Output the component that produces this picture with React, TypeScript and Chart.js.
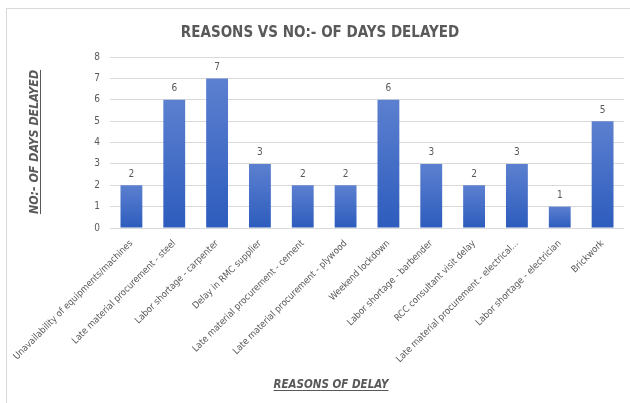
import React, { useEffect, useRef } from "react";
import { Chart, registerables } from "chart.js";

Chart.register(...registerables);

const categories: string[] = [
  "Unavailability of equipments/machines",
  "Late material procurement - steel",
  "Labor shortage - carpenter",
  "Delay in RMC supplier",
  "Late material procurement - cement",
  "Late material procurement - plywood",
  "Weekend lockdown",
  "Labor shortage - barbender",
  "RCC consultant visit delay",
  "Late material procurement - electrical...",
  "Labor shortage - electrician",
  "Brickwork",
];

const daysDelayed: number[] = [2, 6, 7, 3, 2, 2, 6, 3, 2, 3, 1, 5];

const yTicks: number[] = [0, 1, 2, 3, 4, 5, 6, 7, 8];

const chartTitle = "REASONS VS NO:- OF DAYS DELAYED";
const xTitle = "REASONS OF DELAY";
const yTitle = "NO:- OF DAYS DELAYED";

const FONT = "'Liberation Sans Narrow', 'DejaVu Sans Condensed', 'Liberation Sans', sans-serif";
const GRAY = "#595959";

const axisTitles = {
  id: "axisTitles",
  afterDraw(chart: any) {
    const ctx = chart.ctx as CanvasRenderingContext2D;
    ctx.save();
    ctx.fillStyle = GRAY;
    ctx.strokeStyle = GRAY;
    ctx.lineWidth = 1;
    ctx.textAlign = "center";
    ctx.textBaseline = "alphabetic";
    // x title
    ctx.font = `italic bold 11.5px ${FONT}`;
    const xc = 331;
    const xb = 388;
    ctx.fillText(xTitle, xc, xb);
    const wx = ctx.measureText(xTitle).width;
    ctx.beginPath();
    ctx.moveTo(xc - wx / 2, xb + 2.5);
    ctx.lineTo(xc + wx / 2, xb + 2.5);
    ctx.stroke();
    // y title
    ctx.font = `italic bold 12.3px ${FONT}`;
    ctx.translate(38, 142);
    ctx.rotate(-Math.PI / 2);
    ctx.fillText(yTitle, 0, 0);
    const wy = ctx.measureText(yTitle).width;
    ctx.beginPath();
    ctx.moveTo(-wy / 2, 2.5);
    ctx.lineTo(wy / 2, 2.5);
    ctx.stroke();
    ctx.restore();
  },
};

const valueLabels = {
  id: "valueLabels",
  afterDatasetsDraw(chart: any) {
    const ctx = chart.ctx as CanvasRenderingContext2D;
    const meta = chart.getDatasetMeta(0);
    ctx.save();
    ctx.font = `10px ${FONT}`;
    ctx.fillStyle = GRAY;
    ctx.textAlign = "center";
    ctx.textBaseline = "middle";
    meta.data.forEach((bar: any, i: number) => {
      ctx.fillText(String(daysDelayed[i]), bar.x, bar.y - 11);
    });
    ctx.restore();
  },
};

export default function App() {
  const canvasRef = useRef<HTMLCanvasElement | null>(null);

  useEffect(() => {
    if (!canvasRef.current) return;
    const chart = new Chart(canvasRef.current, {
      type: "bar",
      data: {
        labels: categories,
        datasets: [
          {
            data: daysDelayed,
            backgroundColor: (c: any) => {
              const ch = c.chart;
              const sy = ch.scales && ch.scales.y;
              if (!ch.chartArea || !sy || c.type !== "data") return "#4472c4";
              const top = sy.getPixelForValue(c.raw);
              const bottom = sy.getPixelForValue(0);
              const g = ch.ctx.createLinearGradient(0, top, 0, bottom);
              g.addColorStop(0, "#5c80d0");
              g.addColorStop(1, "#2d5cbd");
              return g;
            },
            borderWidth: 0,
            barPercentage: 0.51,
            categoryPercentage: 1,
          },
        ],
      },
      options: {
        responsive: false,
        animation: false,
        layout: { padding: { left: 16, right: 6, top: 0, bottom: 0 } },
        plugins: {
          legend: { display: false },
          tooltip: { enabled: false },
          title: {
            display: true,
            text: chartTitle,
            color: GRAY,
            font: { family: FONT, size: 15, weight: "bold" },
            padding: { top: 24, bottom: 15 },
          },
        },
        scales: {
          x: {
            grid: { display: false },
            border: { display: false },
            ticks: {
              color: GRAY,
              font: { family: FONT, size: 9.4 },
              minRotation: 45,
              maxRotation: 45,
              autoSkip: false,
              padding: 2,
            },
            afterFit: (s: any) => {
              s.height = 175;
            },
          },
          y: {
            min: 0,
            max: 8,
            afterBuildTicks: (s: any) => {
              s.ticks = yTicks.map((v) => ({ value: v }));
            },
            grid: { color: "#d9d9d9", lineWidth: 1, drawTicks: false },
            border: { display: false },
            ticks: {
              color: GRAY,
              font: { family: FONT, size: 10 },
              padding: 10,
            },
            afterFit: (s: any) => {
              s.width = 94;
            },
          },
        },
      },
      plugins: [valueLabels, axisTitles],
    });
    return () => chart.destroy();
  }, []);

  return (
    <div style={{ position: "absolute", left: 0, top: 0, width: 630, height: 403, overflow: "hidden", background: "#fff" }}>
      <div
        style={{
          position: "absolute",
          left: 6,
          top: 8,
          width: 640,
          height: 420,
          borderLeft: "1px solid #d9d9d9",
          borderTop: "1px solid #d9d9d9",
        }}
      />
      <canvas ref={canvasRef} width={630} height={403} style={{ position: "absolute", left: 0, top: 0, display: "block" }} />
    </div>
  );
}
